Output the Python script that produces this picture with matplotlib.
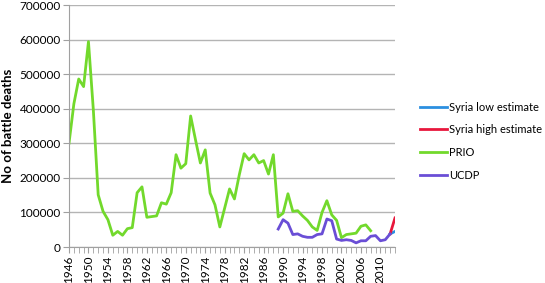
import matplotlib
matplotlib.use("Agg")
import matplotlib.pyplot as plt
from matplotlib.ticker import MultipleLocator

plt.rcParams["font.family"] = ["Lato", "DejaVu Sans"]

prio_years = list(range(1946, 2009))
prio_deaths = [
    300000, 414000, 486000, 464000, 594000, 397000, 151000, 103000, 79000, 34000,
    45000, 34000, 53000, 56000, 157000, 174000, 86000, 88000, 90000, 128000,
    124000, 157000, 267000, 228000, 241000, 379000, 310000, 243000, 281000, 156000,
    122000, 58000, 113000, 168000, 139000, 209000, 270000, 252000, 267000, 243000,
    250000, 211000, 267000, 87000, 98000, 154000, 103000, 105000, 90000, 77000,
    58000, 48000, 100000, 134000, 93000, 77000, 27000, 36000, 38000, 40000,
    60000, 64000, 47000,
]

ucdp_years = list(range(1989, 2013))
ucdp_deaths = [
    52000, 79000, 69000, 36000, 38000, 31000, 28000, 28000, 36000, 38000,
    81000, 76000, 23000, 19000, 21000, 19000, 12000, 18000, 18000, 31000,
    33000, 18000, 21000, 38000,
]

syria_years = [2012, 2013]
syria_low = [38000, 45000]
syria_high = [38000, 84000]

fig = plt.figure(figsize=(5.45, 2.83), dpi=100)
ax = fig.add_axes([69 / 545, 1 - 247 / 283, (395 - 69) / 545, (247 - 5) / 283])

lw = 2.0
ax.plot(syria_years, syria_low, color="#2b8fe0", lw=lw, label="Syria low estimate")
ax.plot(syria_years, syria_high, color="#e8173c", lw=lw, label="Syria high estimate")
ax.plot(prio_years, prio_deaths, color="#72d92c", lw=lw, label="PRIO")
ax.plot(ucdp_years, ucdp_deaths, color="#6a4ed6", lw=lw, label="UCDP")

ax.set_xlim(1946, 2013)
ax.set_ylim(0, 700000)
ax.yaxis.set_major_locator(MultipleLocator(100000))
ax.set_xticks(range(1946, 2011, 4))
ax.xaxis.set_minor_locator(MultipleLocator(1))
ax.tick_params(axis="x", which="both", labelrotation=90, length=4, color="#a0a0a0",
               labelsize=8.5, pad=2)
ax.tick_params(axis="y", length=4, color="#a0a0a0", labelsize=8.5, pad=2)
ax.grid(axis="y", color="#b4b4b4", lw=1)
ax.set_axisbelow(True)
for s in ("top", "right"):
    ax.spines[s].set_visible(False)
for s in ("left", "bottom"):
    ax.spines[s].set_color("#a0a0a0")

ax.set_ylabel("No of battle deaths", fontweight="bold", fontsize=9.5)
ax.yaxis.set_label_coords(-0.17, 0.5)

ax.legend(loc="upper left", bbox_to_anchor=(414 / 545, 1 - 96 / 283),
          bbox_transform=fig.transFigure, frameon=False, fontsize=8,
          handlelength=2.5, handletextpad=0.15, labelspacing=1.05, borderpad=0)

fig.savefig("out.png", dpi=100)
